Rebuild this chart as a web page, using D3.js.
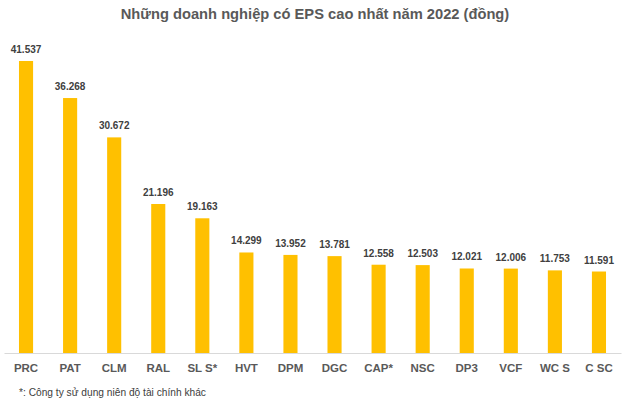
<!DOCTYPE html>
<html><head><meta charset="utf-8">
<script src="https://cdn.jsdelivr.net/npm/d3@7/dist/d3.min.js"></script>
<style>body{margin:0;background:#fff}svg{display:block}</style>
</head><body>
<svg id="c" width="630" height="405"></svg>
<script>
const categories = ["PRC","PAT","CLM","RAL","SL S*","HVT","DPM","DGC","CAP*","NSC","DP3","VCF","WC S","C SC"];
const values = [41.537,36.268,30.672,21.196,19.163,14.299,13.952,13.781,12.558,12.503,12.021,12.006,11.753,11.591];
const valueLabels = ["41.537","36.268","30.672","21.196","19.163","14.299","13.952","13.781","12.558","12.503","12.021","12.006","11.753","11.591"];
const title = "Những doanh nghiệp có EPS cao nhất năm 2022 (đồng)";
const footnote = "*: Công ty sử dụng niên độ tài chính khác";

const svg = d3.select("#c");
const font = "'Liberation Sans', Arial, sans-serif";
const base = 353;
const x = d3.scaleBand().domain(categories).range([4, 621]).paddingInner(0.68).paddingOuter(0.34);
const y = d3.scaleLinear().domain([0, 41.537]).range([base, 61]);

svg.append("text").attr("x", 315).attr("y", 19).attr("text-anchor", "middle")
  .attr("font-family", font).attr("font-weight", "bold").attr("font-size", 14.7)
  .attr("fill", "#595959").text(title);

svg.append("g").selectAll("rect").data(values).join("rect")
  .attr("x", (d, i) => x(categories[i])).attr("width", x.bandwidth())
  .attr("y", d => y(d)).attr("height", d => base - y(d)).attr("fill", "#FFC000");

svg.append("g").selectAll("text").data(values).join("text")
  .attr("x", (d, i) => x(categories[i]) + x.bandwidth() / 2).attr("y", d => y(d) - 8)
  .attr("text-anchor", "middle").attr("font-family", font).attr("font-weight", "bold")
  .attr("font-size", 10).attr("fill", "#404040").text((d, i) => valueLabels[i]);

const axis = svg.append("g").attr("transform", `translate(0,${base})`)
  .call(d3.axisBottom(x).tickSize(0).tickPadding(11));
axis.select(".domain").attr("stroke", "#d9d9d9").attr("stroke-width", 1.2);
axis.selectAll("text").attr("font-family", font).attr("font-weight", "bold")
  .attr("font-size", 11.5).attr("fill", "#595959");

svg.append("text").attr("x", 19).attr("y", 396).attr("font-family", font)
  .attr("font-size", 10.2).attr("fill", "#404040").text(footnote);
</script>
</body></html>
